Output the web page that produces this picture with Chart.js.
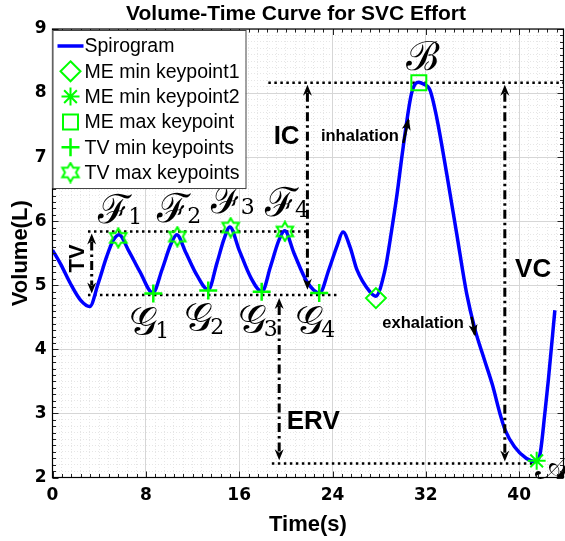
<!DOCTYPE html>
<html>
<head>
<meta charset="utf-8">
<title>Volume-Time Curve for SVC Effort</title>
<script src="https://cdn.jsdelivr.net/npm/chart.js@4.4.1/dist/chart.umd.min.js"></script>
<style>
  html, body { margin: 0; padding: 0; background: #fff; }
  #wrap { width: 565px; height: 541px; }
</style>
</head>
<body>
<div id="wrap"><canvas id="chart" width="565" height="541"></canvas></div>
<script>
// spirogram samples
const TIME = [0, 0.7, 1.5, 2.4, 3.2, 3.9, 4.65, 5.2, 5.7, 6.5, 7.5, 8.6, 9.4, 10.1, 10.65, 11.4, 12.4, 13.35,
  14.1, 14.7, 15.2, 16.0, 17.0, 17.95, 18.7, 19.4, 19.9, 20.7, 21.8, 22.9, 23.7, 24.4, 24.9, 25.5, 26.1, 27.2,
  27.7, 28.5, 29.07, 29.5, 30.06, 30.78, 31.35, 31.8, 32.35, 32.92, 33.78, 34.64, 35.5, 36.2, 37.0, 37.7, 38.35,
  38.8, 39.6, 40.6, 41.35, 41.77, 42.2, 42.5, 43.06];
const VOLUME = [5.55, 5.33, 5.04, 4.77, 4.67, 5.02, 5.45, 5.70, 5.79, 5.55, 5.21, 4.88, 5.25, 5.62, 5.79, 5.52, 5.15, 4.93,
  5.35, 5.72, 5.91, 5.55, 5.12, 4.90, 5.30, 5.70, 5.85, 5.50, 5.06, 4.88, 5.25, 5.62, 5.83, 5.60, 5.24, 4.90,
  4.83, 5.24, 5.86, 6.38, 7.16, 8.00, 8.17, 8.14, 8.05, 7.63, 6.75, 5.81, 4.87, 4.32, 3.85, 3.45, 3.00,
  2.74, 2.48, 2.30, 2.25, 2.35, 3.00, 3.52, 4.61];

// keypoints
const ME_MIN1_X = [27.72], ME_MIN1_Y = [4.80];
const ME_MIN2_X = [41.5], ME_MIN2_Y = [2.26];
const ME_MAX_X = [31.4], ME_MAX_Y = [8.16];
const TV_MIN_X = [8.64, 13.35, 17.93, 22.86], TV_MIN_Y = [4.87, 4.92, 4.90, 4.88];
const TV_MAX_X = [5.64, 10.7, 15.27, 19.92], TV_MAX_Y = [5.74, 5.76, 5.90, 5.84];

// dotted reference levels and the dash-dot measurement arrows
const REF_LEVEL = [5.84, 4.85, 8.16, 2.22];
const REF_FROM = [3.04, 3.04, 18.5, 18.8];
const REF_TO = [21.8, 24.6, 43.8, 41.3];
const ARROW_NAMES = ['TV', 'IC', 'ERV', 'VC'];
const ARROW_X = [3.36, 21.85, 19.43, 38.77];
const ARROW_TOP = [5.81, 8.13, 4.80, 8.13];
const ARROW_BOTTOM = [4.87, 4.93, 2.27, 2.25];

const X_TICKS = [0, 8, 16, 24, 32, 40];
const Y_TICKS = [2, 3, 4, 5, 6, 7, 8, 9];
const X_MIN = 0, X_MAX = 43.8, Y_MIN = 2, Y_MAX = 9;

const SANS = "'Liberation Sans', Arial, sans-serif";
const TICK_FONT = "'DejaVu Sans', sans-serif";
const MATH = "'DejaVu Serif', serif";
const GREEN = '#00ff00';

function pts(xs, ys) { return xs.map((v, i) => ({ x: v, y: ys[i] })); }

// hexagram marker (TV max keypoints)
function hexagram(size) {
  const c = document.createElement('canvas');
  c.width = size; c.height = size;
  const g = c.getContext('2d');
  const R = size / 2 - 1.5, r = R / Math.sqrt(3), m = size / 2;
  g.beginPath();
  for (let i = 0; i < 12; i++) {
    const a = -Math.PI / 2 + i * Math.PI / 6;
    const rr = i % 2 ? r : R;
    g.lineTo(m + rr * Math.cos(a), m + rr * Math.sin(a));
  }
  g.closePath();
  g.strokeStyle = GREEN; g.lineWidth = 2; g.stroke();
  return c;
}
const HEX = hexagram(22);

function marker(ctx, style, x, y) {
  ctx.save();
  ctx.strokeStyle = GREEN; ctx.lineWidth = 2; ctx.setLineDash([]);
  ctx.beginPath();
  if (style === 'line') {
    ctx.strokeStyle = '#0000ff'; ctx.lineWidth = 3.5;
    ctx.moveTo(x - 13, y); ctx.lineTo(x + 13, y);
  } else if (style === 'diamond') {
    ctx.moveTo(x, y - 10); ctx.lineTo(x + 10, y); ctx.lineTo(x, y + 10); ctx.lineTo(x - 10, y); ctx.closePath();
  } else if (style === 'asterisk') {
    const d = 9, e = d * Math.SQRT1_2;
    ctx.moveTo(x - d, y); ctx.lineTo(x + d, y); ctx.moveTo(x, y - d); ctx.lineTo(x, y + d);
    ctx.moveTo(x - e, y - e); ctx.lineTo(x + e, y + e); ctx.moveTo(x - e, y + e); ctx.lineTo(x + e, y - e);
  } else if (style === 'square') {
    ctx.rect(x - 7.5, y - 7.5, 15, 15);
  } else if (style === 'plus') {
    ctx.lineWidth = 2.5;
    ctx.moveTo(x - 9, y); ctx.lineTo(x + 9, y); ctx.moveTo(x, y - 9); ctx.lineTo(x, y + 9);
  } else if (style === 'hex') {
    ctx.drawImage(HEX, x - 11, y - 11);
  }
  ctx.stroke();
  ctx.restore();
}

function arrowHead(ctx, x, y, dir) {
  // dir = -1 points up, 1 points down
  ctx.beginPath();
  ctx.moveTo(x, y);
  ctx.lineTo(x - 4.5, y - dir * 11);
  ctx.lineTo(x, y - dir * 7.5);
  ctx.lineTo(x + 4.5, y - dir * 11);
  ctx.closePath();
  ctx.fill();
}

function slantArrow(ctx, x0, y0, x1, y1) {
  ctx.save();
  ctx.strokeStyle = '#000'; ctx.fillStyle = '#000'; ctx.lineWidth = 2.5; ctx.setLineDash([]);
  ctx.beginPath(); ctx.moveTo(x0, y0); ctx.lineTo(x1, y1); ctx.stroke();
  const a = Math.atan2(y1 - y0, x1 - x0);
  ctx.translate(x1, y1); ctx.rotate(a);
  ctx.beginPath(); ctx.moveTo(2, 0); ctx.lineTo(-10, -4.5); ctx.lineTo(-7, 0); ctx.lineTo(-10, 4.5); ctx.closePath(); ctx.fill();
  ctx.restore();
}

function mathLabel(ctx, glyph, sub, x, y, subDx, subDy) {
  ctx.save();
  ctx.fillStyle = '#000';
  ctx.textAlign = 'left'; ctx.textBaseline = 'alphabetic';
  ctx.font = '40px ' + MATH;
  ctx.fillText(glyph, x, y);
  if (sub) {
    ctx.font = '22px ' + MATH;
    ctx.fillText(sub, x + subDx, y + subDy);
  }
  ctx.restore();
}

const LEGEND = [
  ['Spirogram', 'line'],
  ['ME min keypoint1', 'diamond'],
  ['ME min keypoint2', 'asterisk'],
  ['ME max keypoint', 'square'],
  ['TV min keypoints', 'plus'],
  ['TV max keypoints', 'hex']
];

const overlay = {
  id: 'overlay',
  beforeDatasetsDraw(chart) {
    const { ctx, scales: { x, y } } = chart;
    ctx.save();
    ctx.strokeStyle = '#000'; ctx.lineWidth = 2.5; ctx.setLineDash([2.5, 3.5]);
    REF_LEVEL.forEach((v, i) => {
      ctx.beginPath();
      ctx.moveTo(x.getPixelForValue(REF_FROM[i]), y.getPixelForValue(v));
      ctx.lineTo(x.getPixelForValue(REF_TO[i]), y.getPixelForValue(v));
      ctx.stroke();
    });
    ctx.restore();
  },
  afterDatasetsDraw(chart) {
    const { ctx, chartArea: ca, scales: { x, y, xMinor, yMinor } } = chart;
    const X = v => x.getPixelForValue(v), Y = v => y.getPixelForValue(v);

    // dash-dot double arrows
    ctx.save();
    ctx.strokeStyle = '#000'; ctx.fillStyle = '#000'; ctx.lineWidth = 3;
    ARROW_X.forEach((ax, i) => {
      const px = X(ax), top = Y(ARROW_TOP[i]), bot = Y(ARROW_BOTTOM[i]);
      ctx.setLineDash([9, 4, 2.5, 4]);
      ctx.beginPath(); ctx.moveTo(px, top + 8); ctx.lineTo(px, bot - 8); ctx.stroke();
      ctx.setLineDash([]);
      arrowHead(ctx, px, top, -1);
      arrowHead(ctx, px, bot, 1);
    });
    ctx.restore();

    slantArrow(ctx, X(30.07), Y(7.22), X(30.5), Y(7.58));
    slantArrow(ctx, X(35.92), Y(4.51), X(36.2), Y(4.23));

    // bold annotation text
    ctx.save();
    ctx.fillStyle = '#000'; ctx.textAlign = 'center'; ctx.textBaseline = 'middle';
    ctx.font = 'bold 26px ' + SANS;
    ctx.fillText('IC', X(20.07), Y(7.32));
    ctx.fillText('VC', X(41.2), Y(5.24));
    ctx.fillText('ERV', X(22.35), Y(2.87));
    ctx.font = 'bold 16.5px ' + SANS;
    ctx.fillText('inhalation', X(26.35), Y(7.32));
    ctx.fillText('exhalation', X(31.77), Y(4.41));
    ctx.translate(X(2.2), Y(5.42));
    ctx.rotate(-Math.PI / 2);
    ctx.font = 'bold 22px ' + SANS;
    ctx.fillText('TV', 0, 0);
    ctx.restore();

    // calligraphic keypoint labels
    TV_MAX_X.forEach((v, i) => mathLabel(ctx, '\u2131', String(i + 1), X(v) - 20, Y(TV_MAX_Y[i]) - 15, 30, 1));
    TV_MIN_X.forEach((v, i) => mathLabel(ctx, '\uD835\uDCA2', String(i + 1), X(v) - 24, Y(TV_MIN_Y[i]) + 41, 26, 3));
    mathLabel(ctx, '\u212C', '', X(ME_MAX_X[0]) - 13, Y(ME_MAX_Y[0]) - 13, 0, 0);
    mathLabel(ctx, '\uD835\uDC9C', '', X(ME_MIN2_X[0]) - 2, Y(ME_MIN2_Y[0]) + 18, 0, 0);

    // inward tick marks on all four sides
    ctx.save();
    ctx.strokeStyle = '#222'; ctx.lineWidth = 1;
    ctx.beginPath();
    xMinor.ticks.forEach(t => {
      const px = Math.round(X(t.value)) + 0.5;
      const len = X_TICKS.includes(Math.round(t.value * 10) / 10) ? 6 : 3.5;
      ctx.moveTo(px, ca.bottom); ctx.lineTo(px, ca.bottom - len);
      ctx.moveTo(px, ca.top); ctx.lineTo(px, ca.top + len);
    });
    yMinor.ticks.forEach(t => {
      const py = Math.round(Y(t.value)) + 0.5;
      const len = Math.abs(t.value - Math.round(t.value)) < 1e-6 ? 6 : 3.5;
      ctx.moveTo(ca.left, py); ctx.lineTo(ca.left + len, py);
      ctx.moveTo(ca.right, py); ctx.lineTo(ca.right - len, py);
    });
    ctx.stroke();
    ctx.strokeStyle = '#000'; ctx.lineWidth = 1.2;
    ctx.strokeRect(ca.left, ca.top, ca.right - ca.left, ca.bottom - ca.top);
    ctx.restore();

    // legend box (top-left, inside the axes)
    ctx.save();
    const lx = ca.left, ly = ca.top + 1, lw = 193, lh = 158;
    ctx.fillStyle = '#fff'; ctx.fillRect(lx, ly, lw, lh);
    ctx.strokeStyle = '#444'; ctx.lineWidth = 1; ctx.strokeRect(lx + 0.5, ly + 0.5, lw, lh);
    ctx.fillStyle = '#000'; ctx.font = '19.5px ' + SANS; ctx.textAlign = 'left'; ctx.textBaseline = 'middle';
    LEGEND.forEach(([label, style], i) => {
      const cy = ly + 16 + i * 25.3;
      marker(ctx, style, lx + 18, cy);
      ctx.fillText(label, lx + 32, cy + 1);
    });
    ctx.restore();

    // title
    ctx.save();
    ctx.fillStyle = '#000'; ctx.font = 'bold 21px ' + SANS; ctx.textAlign = 'center'; ctx.textBaseline = 'alphabetic';
    ctx.fillText('Volume-Time Curve for SVC Effort', 296, 19.5);
    ctx.restore();
  }
};

const tickFont = { family: TICK_FONT, size: 17, weight: 'bold' };
const titleFont = { family: SANS, size: 22, weight: 'bold' };
const noPad = s => { s.paddingLeft = 0; s.paddingRight = 0; s.paddingTop = 0; s.paddingBottom = 0; };

new Chart(document.getElementById('chart'), {
  type: 'line',
  data: {
    datasets: [
      {
        label: 'Spirogram', data: pts(TIME, VOLUME),
        borderColor: '#0000ff', borderWidth: 3.5, pointRadius: 0,
        cubicInterpolationMode: 'monotone', fill: false, order: 10
      },
      {
        label: 'ME min keypoint1', data: pts(ME_MIN1_X, ME_MIN1_Y), showLine: false,
        pointStyle: 'rectRot', pointRadius: 10, pointBorderColor: GREEN, pointBorderWidth: 2,
        pointBackgroundColor: 'rgba(0,0,0,0)', order: 1
      },
      {
        label: 'ME min keypoint2', data: pts(ME_MIN2_X, ME_MIN2_Y), showLine: false,
        pointStyle: 'star', pointRadius: 9, pointBorderColor: GREEN, pointBorderWidth: 2,
        pointBackgroundColor: 'rgba(0,0,0,0)', order: 1
      },
      {
        label: 'ME max keypoint', data: pts(ME_MAX_X, ME_MAX_Y), showLine: false,
        pointStyle: 'rect', pointRadius: 10.6, pointBorderColor: GREEN, pointBorderWidth: 2,
        pointBackgroundColor: 'rgba(0,0,0,0)', order: 1
      },
      {
        label: 'TV min keypoints', data: pts(TV_MIN_X, TV_MIN_Y), showLine: false,
        pointStyle: 'cross', pointRadius: 9, pointBorderColor: GREEN, pointBorderWidth: 2.5,
        pointBackgroundColor: 'rgba(0,0,0,0)', order: 1
      },
      {
        label: 'TV max keypoints', data: pts(TV_MAX_X, TV_MAX_Y), showLine: false,
        pointStyle: HEX, pointRadius: 11, order: 1
      }
    ]
  },
  options: {
    responsive: false,
    devicePixelRatio: 1,
    animation: false,
    layout: { autoPadding: false, padding: { top: 29, right: 1.5, left: 0, bottom: 0 } },
    plugins: { legend: { display: false }, title: { display: false }, tooltip: { enabled: false } },
    scales: {
      xMinor: {
        type: 'linear', position: 'bottom', min: X_MIN, max: X_MAX,
        ticks: { display: false, stepSize: 0.8, includeBounds: false },
        grid: { color: '#e6e6e6', lineWidth: 1, drawTicks: false },
        border: { display: false, dash: [1, 2] },
        afterFit: s => { s.height = 0; noPad(s); }
      },
      yMinor: {
        type: 'linear', position: 'left', min: Y_MIN, max: Y_MAX,
        ticks: { display: false, stepSize: 0.1, includeBounds: false },
        grid: { color: '#e6e6e6', lineWidth: 1, drawTicks: false },
        border: { display: false, dash: [1, 2] },
        afterFit: s => { s.width = 0; noPad(s); }
      },
      x: {
        type: 'linear', position: 'bottom', min: X_MIN, max: X_MAX,
        afterBuildTicks: s => { s.ticks = X_TICKS.map(v => ({ value: v })); },
        ticks: { color: '#000', font: tickFont, padding: 8, maxRotation: 0, autoSkip: false },
        grid: { color: '#d6d6d6', lineWidth: 1, drawTicks: false },
        border: { display: false },
        title: { display: true, text: 'Time(s)', color: '#000', font: titleFont, padding: { top: 0, bottom: 3 } },
        afterFit: s => { s.height = 63.5; noPad(s); }
      },
      y: {
        type: 'linear', position: 'left', min: Y_MIN, max: Y_MAX,
        afterBuildTicks: s => { s.ticks = Y_TICKS.map(v => ({ value: v })); },
        ticks: { color: '#000', font: tickFont, padding: 6, autoSkip: false },
        grid: { color: '#d6d6d6', lineWidth: 1, drawTicks: false },
        border: { display: false },
        title: { display: true, text: 'Volume(L)', color: '#000', font: titleFont, padding: { top: 8, bottom: 0 } },
        afterFit: s => { s.width = 52.5; noPad(s); }
      }
    }
  },
  plugins: [overlay]
});
</script>
</body>
</html>
